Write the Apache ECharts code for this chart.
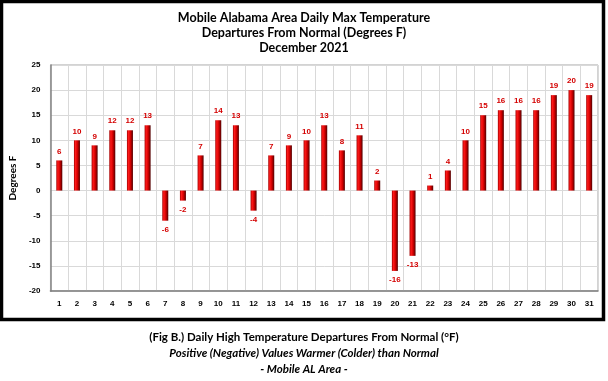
<!DOCTYPE html>
<html>
<head>
<meta charset="utf-8">
<script src="https://cdn.jsdelivr.net/npm/echarts@6/dist/echarts.min.js"></script>
<style>
html,body{margin:0;padding:0;background:#fff;}
#c{width:608px;height:381px;}
</style>
</head>
<body>
<div id="c"></div>
<script>
const days = ['1','2','3','4','5','6','7','8','9','10','11','12','13','14','15','16','17','18','19','20','21','22','23','24','25','26','27','28','29','30','31'];
const departures = [6,10,9,12,12,13,-6,-2,7,14,13,-4,7,9,10,13,8,11,2,-16,-13,1,4,10,15,16,16,16,19,20,19];
const titleLines = ['Mobile Alabama Area Daily Max Temperature','Departures From Normal (Degrees F)','December 2021'];
const captionLines = ['(Fig B.) Daily High Temperature Departures From Normal (°F)','Positive (Negative) Values Warmer (Colder) than Normal','- Mobile AL Area -'];
const yMin = -20, yMax = 25, yStep = 5;

const chart = echarts.init(document.getElementById('c'));
const barColor = new echarts.graphic.LinearGradient(0,0,1,0,[
  {offset:0,color:'#a00000'},
  {offset:0.25,color:'#ff1a1a'},
  {offset:0.6,color:'#d00000'},
  {offset:1,color:'#500000'}
]);
chart.setOption({
  animation:false,
  backgroundColor:'#fff',
  title:{
    text: titleLines.join('\n'),
    left:'center', top:5,
    textStyle:{fontFamily:'Lato',fontWeight:'bold',fontSize:12.5,lineHeight:15,color:'#000'}
  },
  grid:{left:47,right:10,top:65,bottom:90,show:true,borderColor:'#a6a6a6',borderWidth:1},
  xAxis:{
    type:'category', data:days, boundaryGap:true,
    axisLine:{onZero:false,lineStyle:{color:'#808080',width:1.5}},
    axisTick:{show:false},
    axisLabel:{fontFamily:'Liberation Sans',fontWeight:'bold',fontSize:8,color:'#000',margin:9},
    splitLine:{show:true,lineStyle:{color:'#d9d9d9',width:1}}
  },
  yAxis:{
    type:'value', min:yMin, max:yMax, interval:yStep,
    name:'Degrees F', nameLocation:'middle', nameGap:29, nameRotate:90,
    nameTextStyle:{fontFamily:'Lato',fontWeight:'bold',fontSize:10,color:'#000'},
    axisLine:{show:true,lineStyle:{color:'#808080',width:1.5}},
    axisTick:{show:false},
    axisLabel:{fontFamily:'Liberation Sans',fontWeight:'bold',fontSize:8,color:'#000',margin:10},
    splitLine:{show:true,lineStyle:{color:'#d9d9d9',width:1}}
  },
  series:[{
    type:'bar',
    barWidth:6,
    data: departures.map(v=>({value:v,label:{position:v<0?'bottom':'top'}})),
    itemStyle:{color:barColor},
    label:{show:true,fontFamily:'Liberation Sans',fontWeight:'bold',fontSize:8,color:'#d40000',distance:5}
  }],
  graphic:[
    {type:'rect',shape:{x:1.5,y:1.5,width:602,height:318},style:{fill:null,stroke:'#000',lineWidth:3.5},silent:true},
    {type:'text',left:'center',top:331,style:{text:captionLines[0],font:'bold 11.5px Lato',fill:'#000'}},
    {type:'text',left:'center',top:347,style:{text:captionLines[1],font:'italic bold 11.5px Lato',fill:'#000'}},
    {type:'text',left:'center',top:363,style:{text:captionLines[2],font:'italic bold 11.5px Lato',fill:'#000'}}
  ]
});
</script>
</body>
</html>
